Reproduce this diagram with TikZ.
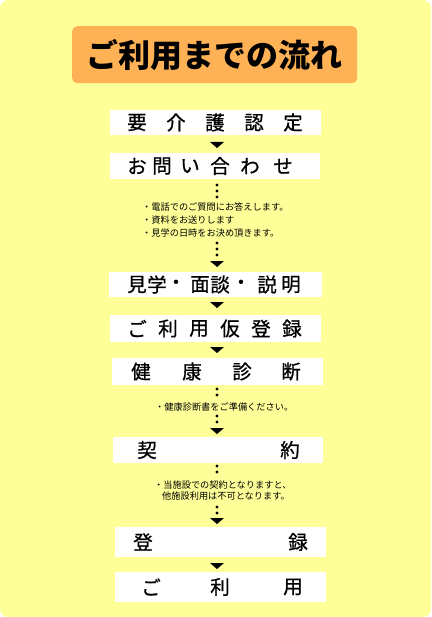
\documentclass[tikz,border=0pt]{standalone}
\usepackage{fontspec}
\setmainfont{Noto Sans CJK JP}
\newfontfamily\boxfont{Noto Sans CJK JP}[FakeBold=0.8]
\definecolor{bgyellow}{HTML}{FFFF99}
\definecolor{titleorange}{HTML}{FFB255}
\tikzset{
  stepbox/.style={fill=white,draw=none,inner sep=0pt,outer sep=0pt,anchor=north west},
  boxch/.style={font=\boxfont\fontsize{19.5}{19.5}\selectfont,inner sep=0pt},
  note/.style={font=\fontsize{9.2}{9.2}\selectfont,anchor=west,inner sep=0pt},
  tri/.style={fill=black},
  flowdot/.style={fill=black}
}
\newcommand{\mytri}[2]{\fill[tri] (#1-7,#2) -- (#1+7,#2) -- (#1,#2+6) -- cycle;}
\newcommand{\mydot}[2]{\fill[flowdot] (#1,#2) circle (1.6);}
\begin{document}
\begin{tikzpicture}[x=1pt,y=-1pt]
\useasboundingbox (0,0) rectangle (431,617);
\fill[bgyellow,rounded corners=8pt] (0,0) rectangle (431,617);
% title
\node[fill=titleorange,rounded corners=5pt,minimum width=285,minimum height=57,inner sep=0pt,anchor=north west] (title) at (72,26) {};
\node[font=\fontsize{32}{32}\selectfont\bfseries,inner sep=0pt] (titletext) at (214,55) {ご利用までの流れ};
% boxes
\node[stepbox,minimum width=211,minimum height=25] (b1) at (110,110) {};
\node[stepbox,minimum width=210,minimum height=26] (b2) at (110,153) {};
\node[stepbox,minimum width=213,minimum height=25] (b3) at (109,272) {};
\node[stepbox,minimum width=211,minimum height=27] (b4) at (110,315) {};
\node[stepbox,minimum width=211,minimum height=27] (b5) at (112,358) {};
\node[stepbox,minimum width=210,minimum height=26] (b6) at (113,437) {};
\node[stepbox,minimum width=211,minimum height=30] (b7) at (115,527) {};
\node[stepbox,minimum width=211,minimum height=30] (b8) at (115,572) {};
% box texts
\foreach \c/\x in {要/137,介/176,護/215,認/254,定/293} {\node[boxch] at (\x,122.5) {\c};}
\foreach \c/\x in {お/137,問/162,い/190,合/220,わ/250,せ/283} {\node[boxch] at (\x,166) {\c};}
\foreach \c/\x in {見/137,学/157,・/176,面/200,談/220,・/241,説/267,明/291} {\node[boxch] at (\x,284.5) {\c};}
\foreach \c/\x in {ご/137,利/168,用/199,仮/230,登/261,録/292} {\node[boxch] at (\x,328.5) {\c};}
\foreach \c/\x in {健/141,康/192,診/242,断/291} {\node[boxch] at (\x,371.5) {\c};}
\foreach \c/\x in {契/147,約/290} {\node[boxch] at (\x,450) {\c};}
\foreach \c/\x in {登/143,録/298} {\node[boxch] at (\x,542) {\c};}
\foreach \c/\x in {ご/151,利/220,用/293} {\node[boxch] at (\x,587) {\c};}
% arrows between boxes
\mytri{217}{142}
\mytri{217}{302}
\mytri{217}{347}
\mytri{217}{563}
% section 1
\foreach \y in {185,191,197} {\mydot{217}{\y}}
\node[note] (n1) at (142,207) {・電話でのご質問にお答えします。};
\node[note] (n2) at (142,220) {・資料をお送りします};
\node[note] (n3) at (142,232.5) {・見学の日時をお決め頂きます。};
\foreach \y in {243,249,255} {\mydot{217}{\y}}
\mytri{217}{261}
% section 2
\foreach \y in {389,395} {\mydot{217}{\y}}
\node[note] (n4) at (155,407.5) {・健康診断書をご準備ください。};
\foreach \y in {416,422} {\mydot{217}{\y}}
\mytri{217}{428}
% section 3
\foreach \y in {466,472} {\mydot{217}{\y}}
\node[note] (n5) at (154,485) {・当施設での契約となりますと、};
\node[note] (n6) at (162,496) {他施設利用は不可となります。};
\foreach \y in {507,513} {\mydot{217}{\y}}
\mytri{217}{518}
\end{tikzpicture}
\end{document}
